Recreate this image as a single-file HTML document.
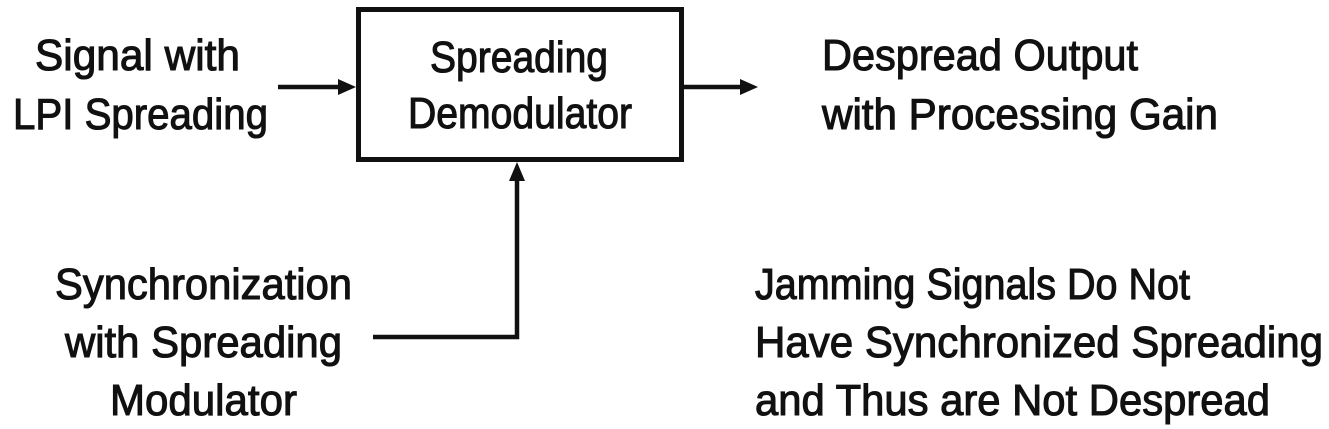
<!DOCTYPE html>
<html><head><meta charset="utf-8"><style>
html,body{margin:0;padding:0;background:#fff;}
svg{display:block}
text{font-family:"Liberation Sans Narrow","Liberation Sans",sans-serif;font-size:44px;fill:#111;stroke:#111;stroke-width:1.1px;}
</style></head><body>
<svg width="1329" height="429" viewBox="0 0 1329 429">
<rect x="358.5" y="9.5" width="323" height="150" fill="none" stroke="#111" stroke-width="5"/>
<g stroke="#111" stroke-width="4.5" fill="none">
<line x1="278" y1="87" x2="342" y2="87"/>
<line x1="684" y1="87" x2="742" y2="87"/>
<polyline points="373,337 517,337 517,178"/>
</g>
<g fill="#111">
<polygon points="356,87 338,79 338,95"/>
<polygon points="758,87 740,79 740,95"/>
<polygon points="517,162 509,181 525,181"/>
</g>
<text x="35" y="70" textLength="205" lengthAdjust="spacingAndGlyphs">Signal with</text>
<text x="13" y="129" textLength="255" lengthAdjust="spacingAndGlyphs">LPI Spreading</text>
<text x="430" y="72" textLength="178" lengthAdjust="spacingAndGlyphs">Spreading</text>
<text x="408" y="128" textLength="224" lengthAdjust="spacingAndGlyphs">Demodulator</text>
<text x="822" y="70" textLength="316" lengthAdjust="spacingAndGlyphs">Despread Output</text>
<text x="822" y="129" textLength="396" lengthAdjust="spacingAndGlyphs">with Processing Gain</text>
<text x="55" y="299" textLength="297" lengthAdjust="spacingAndGlyphs">Synchronization</text>
<text x="65" y="357" textLength="277" lengthAdjust="spacingAndGlyphs">with Spreading</text>
<text x="110" y="415" textLength="187" lengthAdjust="spacingAndGlyphs">Modulator</text>
<text x="755" y="299" textLength="435" lengthAdjust="spacingAndGlyphs">Jamming Signals Do Not</text>
<text x="755" y="357" textLength="568" lengthAdjust="spacingAndGlyphs">Have Synchronized Spreading</text>
<text x="755" y="415" textLength="515" lengthAdjust="spacingAndGlyphs">and Thus are Not Despread</text>
</svg>
</body></html>
